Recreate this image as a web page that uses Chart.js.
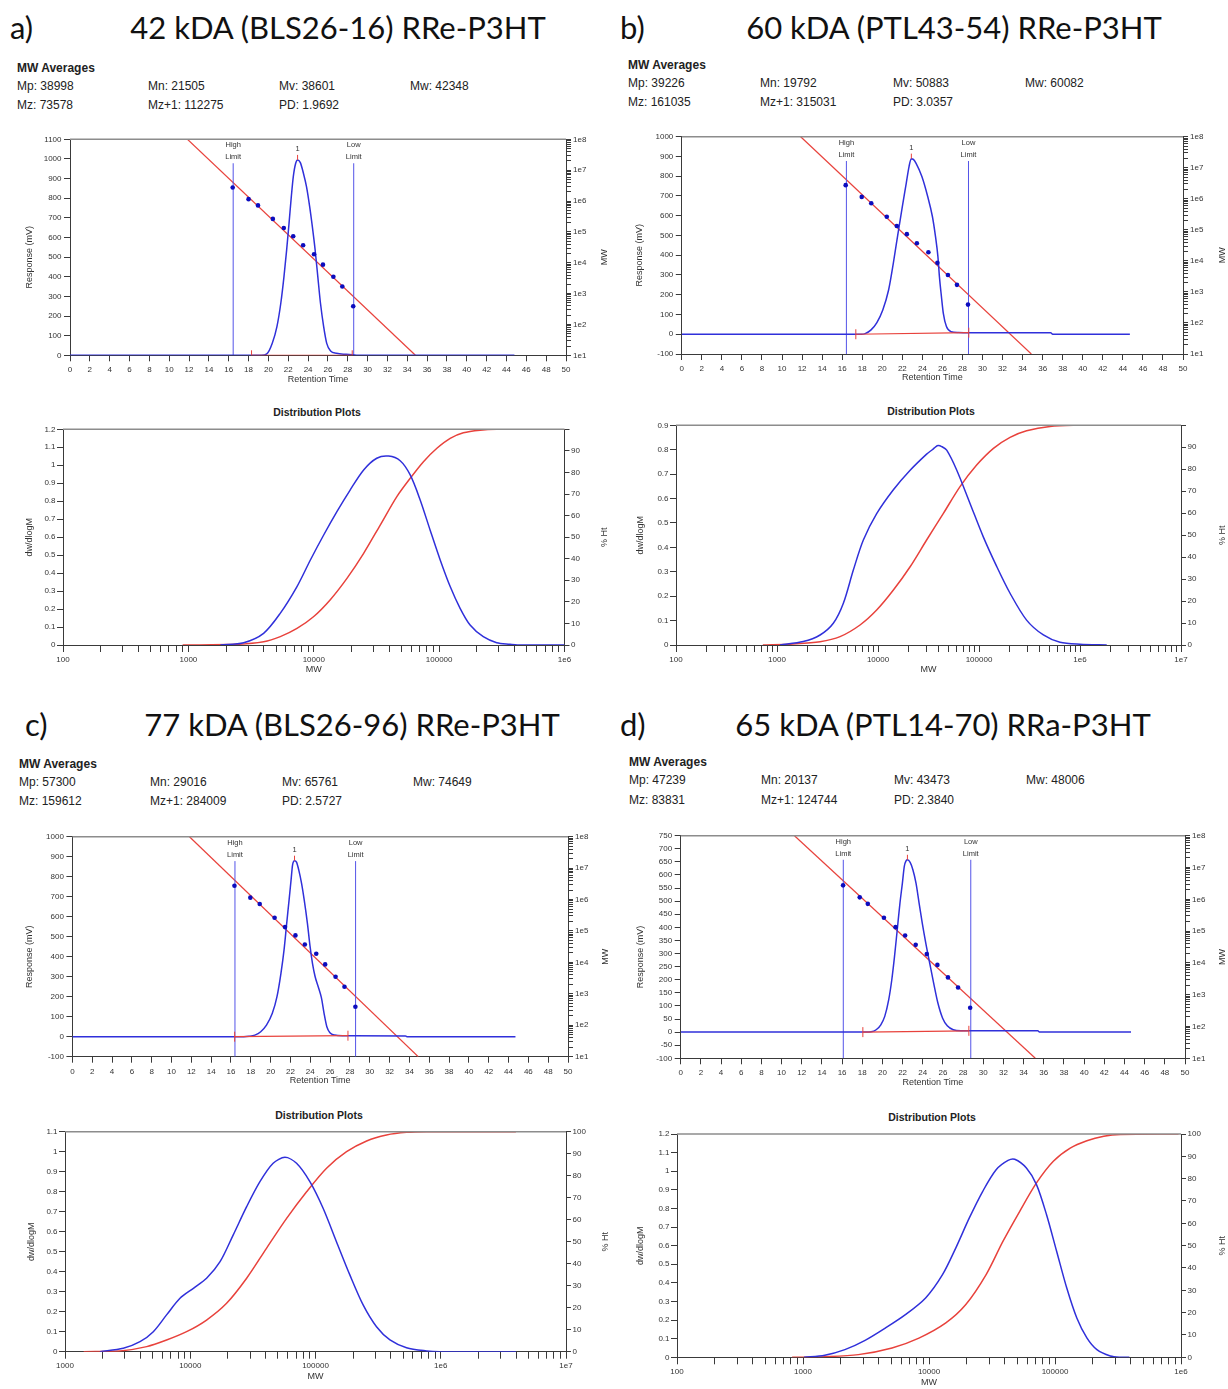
<!DOCTYPE html>
<html>
<head>
<meta charset="utf-8">
<script src="https://cdn.jsdelivr.net/npm/chart.js@4.4.1/dist/chart.umd.min.js"></script>
<style>
  html, body { margin: 0; padding: 0; background: #fff; overflow: hidden; }
  body { position: relative; width: 1228px; height: 1389px; font-family: "Liberation Sans", Arial, sans-serif; color: #111; }
  .t { position: absolute; white-space: nowrap; line-height: 1; transform: translateY(-50%); }
  .ctr { transform: translate(-50%, -50%); }
  .hd { font-family: Lato, "Open Sans", sans-serif; font-size: 31px; color: #111; }
  .avg { font-size: 12px; color: #222; }
  .bold { font-weight: bold; }
  .dp { font-size: 10.5px; font-weight: bold; color: #222; }
  canvas { position: absolute; }
</style>
</head>
<body>

<!-- panel a -->
<div class="t hd" style="left:10px;top:27px">a)</div>
<div class="t hd ctr" style="left:338px;top:27px">42 kDA (BLS26-16) RRe-P3HT</div>
<div class="t avg bold" style="left:17px;top:68px">MW Averages</div>
<div class="t avg" style="left:17px;top:86px">Mp: 38998</div>
<div class="t avg" style="left:148px;top:86px">Mn: 21505</div>
<div class="t avg" style="left:279px;top:86px">Mv: 38601</div>
<div class="t avg" style="left:410px;top:86px">Mw: 42348</div>
<div class="t avg" style="left:17px;top:105px">Mz: 73578</div>
<div class="t avg" style="left:148px;top:105px">Mz+1: 112275</div>
<div class="t avg" style="left:279px;top:105px">PD: 1.9692</div>
<div class="t dp ctr" style="left:317px;top:412px">Distribution Plots</div>

<!-- panel b -->
<div class="t hd" style="left:620px;top:27px">b)</div>
<div class="t hd ctr" style="left:954px;top:27px">60 kDA (PTL43-54) RRe-P3HT</div>
<div class="t avg bold" style="left:628px;top:65px">MW Averages</div>
<div class="t avg" style="left:628px;top:83px">Mp: 39226</div>
<div class="t avg" style="left:760px;top:83px">Mn: 19792</div>
<div class="t avg" style="left:893px;top:83px">Mv: 50883</div>
<div class="t avg" style="left:1025px;top:83px">Mw: 60082</div>
<div class="t avg" style="left:628px;top:102px">Mz: 161035</div>
<div class="t avg" style="left:760px;top:102px">Mz+1: 315031</div>
<div class="t avg" style="left:893px;top:102px">PD: 3.0357</div>
<div class="t dp ctr" style="left:931px;top:411px">Distribution Plots</div>

<!-- panel c -->
<div class="t hd" style="left:25px;top:724px">c)</div>
<div class="t hd ctr" style="left:352px;top:724px">77 kDA (BLS26-96) RRe-P3HT</div>
<div class="t avg bold" style="left:19px;top:764px">MW Averages</div>
<div class="t avg" style="left:19px;top:782px">Mp: 57300</div>
<div class="t avg" style="left:150px;top:782px">Mn: 29016</div>
<div class="t avg" style="left:282px;top:782px">Mv: 65761</div>
<div class="t avg" style="left:413px;top:782px">Mw: 74649</div>
<div class="t avg" style="left:19px;top:801px">Mz: 159612</div>
<div class="t avg" style="left:150px;top:801px">Mz+1: 284009</div>
<div class="t avg" style="left:282px;top:801px">PD: 2.5727</div>
<div class="t dp ctr" style="left:319px;top:1115px">Distribution Plots</div>

<!-- panel d -->
<div class="t hd" style="left:620px;top:724px">d)</div>
<div class="t hd ctr" style="left:943px;top:724px">65 kDA (PTL14-70) RRa-P3HT</div>
<div class="t avg bold" style="left:629px;top:762px">MW Averages</div>
<div class="t avg" style="left:629px;top:780px">Mp: 47239</div>
<div class="t avg" style="left:761px;top:780px">Mn: 20137</div>
<div class="t avg" style="left:894px;top:780px">Mv: 43473</div>
<div class="t avg" style="left:1026px;top:780px">Mw: 48006</div>
<div class="t avg" style="left:629px;top:800px">Mz: 83831</div>
<div class="t avg" style="left:761px;top:800px">Mz+1: 124744</div>
<div class="t avg" style="left:894px;top:800px">PD: 2.3840</div>
<div class="t dp ctr" style="left:932px;top:1117px">Distribution Plots</div>

<script>
// ---- shared calibration standards (MW of the 12 narrow standards) ----
const CAL_MW = [2750000, 1150000, 720000, 263000, 133000, 72500, 37000, 18900, 8650, 3500, 1690, 390];
const CAL_LINE_MW = [1e8, 10];

// axis tick labels
const MW_AXIS_LABELS = ['1e1', '1e2', '1e3', '1e4', '1e5', '1e6', '1e7', '1e8'];
const DIST_X_LABELS = { 2: '100', 3: '1000', 4: '10000', 5: '100000', 6: '1e6', 7: '1e7' };

// ---- a) 42 kDa BLS26-16 ----
const RT_A = [0, 19.3, 19.84, 20.39, 20.86, 21.25, 21.57, 21.84, 22.08, 22.31, 22.51, 22.75, 22.94, 23.22, 23.53, 23.84, 24.16, 24.43, 24.71, 24.98, 25.25, 25.57, 25.88, 26.27, 26.86, 27.84, 28.47, 29.0, 44.8];
const MV_A = [0, 0, 7, 61, 146, 265, 401, 537, 672, 808, 910, 978, 995, 981, 927, 859, 757, 655, 537, 401, 265, 146, 61, 22, 10, 5, 3, 0, 0];
const STD_RT_A = [16.4, 18.0, 18.95, 20.45, 21.55, 22.5, 23.5, 24.6, 25.5, 26.55, 27.45, 28.55];
const LIMITS_A = [16.45, 28.6];
const BASE_RT_A = [18.3, 28.45];
const BASE_MV_A = [0, 0];
const CAL_LINE_RT_A = [11.84, 34.82];
const PEAK_A = [22.94, 995];
const W_MW_A = [1800, 2760, 3980, 5400, 7350, 9400, 12000, 15300, 19500, 25000, 31800, 39500, 48900, 58800, 70600, 84700, 102000, 122500, 147000, 176600, 225000, 288000, 368000, 420000, 1000000];
const W_A = [0, 0.013, 0.065, 0.176, 0.325, 0.473, 0.612, 0.742, 0.862, 0.974, 1.039, 1.051, 1.025, 0.946, 0.807, 0.640, 0.473, 0.325, 0.204, 0.111, 0.046, 0.013, 0.004, 0, 0];
const CUM_MW_A = [900, 2440, 3980, 5410, 7350, 9950, 13500, 18400, 25000, 33900, 46000, 58800, 75000, 96000, 122500, 156000, 212000, 288000, 1000000];
const CUM_A = [0, 0.3, 1.5, 3.9, 7.7, 13.1, 20.9, 30.9, 42.5, 55.6, 68.8, 77.3, 85, 91.2, 95.8, 98.4, 99.6, 100, 100];

// ---- b) 60 kDa PTL43-54 ----
const RT_B = [0, 17.9, 18.29, 18.88, 19.46, 20.05, 20.63, 21.1, 21.57, 22.0, 22.39, 22.67, 22.89, 23.1, 23.36, 23.95, 24.53, 25.0, 25.31, 25.55, 25.7, 25.9, 26.09, 26.4, 26.87, 27.6, 28.6, 29.2, 36.8, 37.0, 44.7];
const MV_B = [0, 0, 3, 22, 59, 123, 224, 359, 511, 646, 764, 849, 889, 885, 866, 798, 697, 596, 494, 393, 292, 191, 106, 39, 13, 9, 8, 8, 7, 0, 0];
const STD_RT_B = [16.35, 17.95, 18.9, 20.45, 21.45, 22.45, 23.45, 24.6, 25.5, 26.55, 27.45, 28.55];
const LIMITS_B = [16.42, 28.6];
const BASE_RT_B = [17.36, 28.63];
const BASE_MV_B = [0, 8];
const CAL_LINE_RT_B = [11.86, 34.87];
const PEAK_B = [22.9, 889];
const W_MW_B = [1070, 1820, 2670, 3610, 4540, 5700, 7160, 9700, 14200, 20800, 30300, 34700, 37200, 39500, 42700, 47900, 60100, 81500, 110000, 150000, 203000, 296000, 434000, 634000, 1000000, 1840000];
const W_B = [0, 0.014, 0.041, 0.089, 0.171, 0.307, 0.43, 0.538, 0.636, 0.716, 0.782, 0.801, 0.812, 0.817, 0.813, 0.798, 0.717, 0.58, 0.444, 0.321, 0.212, 0.102, 0.041, 0.011, 0.003, 0];
const CUM_MW_B = [724, 1450, 2670, 4210, 6640, 9700, 14200, 20800, 30300, 44400, 64900, 94800, 139000, 203000, 296000, 505000, 927000, 1840000];
const CUM_B = [0, 0.5, 1.5, 3.8, 9.1, 15.9, 25, 35.6, 47.8, 59.9, 72.1, 81.9, 89.5, 94.5, 97.5, 99.5, 100, 100];

// ---- c) 77 kDa BLS26-96 ----
const RT_C = [0, 17.3, 17.82, 18.41, 19.0, 19.58, 20.17, 20.64, 21.04, 21.35, 21.62, 21.86, 22.06, 22.21, 22.41, 22.61, 22.84, 23.12, 23.39, 23.71, 23.98, 24.22, 24.49, 24.8, 25.12, 25.39, 25.67, 25.98, 26.45, 27.24, 33.6, 33.8, 44.7];
const MV_C = [0, 0, 2, 8, 25, 58, 117, 200, 317, 433, 567, 683, 783, 858, 880, 873, 833, 767, 683, 567, 450, 367, 300, 250, 195, 117, 50, 20, 8, 5, 4, 0, 0];
const STD_RT_C = [16.35, 17.95, 18.9, 20.4, 21.45, 22.5, 23.45, 24.6, 25.5, 26.55, 27.45, 28.55];
const LIMITS_C = [16.4, 28.57];
const BASE_RT_C = [16.37, 27.8];
const BASE_MV_C = [0, 5];
const CAL_LINE_RT_C = [11.81, 34.89];
const PEAK_C = [22.41, 880];
const W_MW_C = [1900, 2920, 3970, 5070, 6470, 8280, 10600, 13500, 17300, 22000, 28200, 36000, 45900, 57000, 70600, 90200, 115000, 147000, 188000, 240000, 307000, 393000, 533000, 769000, 982000, 3980000];
const W_C = [0, 0.017, 0.05, 0.1, 0.184, 0.267, 0.317, 0.367, 0.45, 0.583, 0.725, 0.85, 0.942, 0.972, 0.942, 0.85, 0.717, 0.55, 0.384, 0.234, 0.125, 0.059, 0.02, 0.004, 0, 0];
const CUM_MW_C = [1410, 2750, 4490, 6470, 9350, 13500, 19500, 28200, 40600, 58800, 84900, 122500, 177000, 256000, 369000, 533000, 769000, 3980000];
const CUM_C = [0, 0.3, 2.3, 5.3, 9.1, 14.4, 22, 33.4, 47, 60.6, 72.7, 83.4, 90.9, 95.8, 98.5, 99.7, 100, 100];

// ---- d) 65 kDa PTL14-70 ----
const RT_D = [0, 18.4, 18.88, 19.38, 19.84, 20.23, 20.62, 20.93, 21.2, 21.47, 21.74, 21.98, 22.17, 22.36, 22.48, 22.75, 23.02, 23.33, 23.64, 23.95, 24.3, 24.69, 25.08, 25.5, 25.97, 26.43, 27.02, 27.79, 35.4, 35.6, 44.65];
const MV_D = [0, 0, 1, 9, 28, 60, 123, 200, 289, 391, 493, 569, 633, 655, 658, 648, 620, 569, 492, 416, 340, 263, 187, 111, 53, 24, 9, 5, 5, 0, 0];
const STD_RT_D = [16.1, 17.75, 18.55, 20.15, 21.3, 22.25, 23.3, 24.4, 25.45, 26.5, 27.5, 28.7];
const LIMITS_D = [16.12, 28.76];
const BASE_RT_D = [18.06, 28.57];
const BASE_MV_D = [0, 5];
const CAL_LINE_RT_D = [11.28, 35.16];
const PEAK_D = [22.48, 658];
const W_MW_D = [1020, 1490, 2150, 3110, 4500, 6500, 9400, 12800, 16300, 20900, 26700, 34100, 42400, 47900, 59300, 71300, 85700, 103000, 124000, 149000, 179000, 215000, 275000, 331000, 389000];
const W_D = [0, 0.011, 0.041, 0.091, 0.157, 0.229, 0.319, 0.444, 0.587, 0.749, 0.892, 1.008, 1.058, 1.064, 1.017, 0.928, 0.766, 0.57, 0.372, 0.211, 0.104, 0.041, 0.007, 0, 0];
const CUM_MW_D = [820, 1490, 2750, 5090, 8320, 13600, 19600, 28400, 38600, 52500, 71300, 97000, 132000, 179000, 244000, 331000, 955000];
const CUM_D = [0, 0.3, 1.2, 4.2, 8.6, 15.4, 23.6, 37, 51.9, 65.4, 78.1, 87.8, 93.7, 97, 99, 99.8, 100];

// ---------------------------------------------------------------------------
const FONT = '"Liberation Sans", Arial, Helvetica, sans-serif';
const TXT = '#333';
const AXIS = '#3a3a3a';
const BLUE = 'rgb(48, 48, 218)';
const DOT = 'rgb(12, 12, 190)';
const LIMIT = 'rgb(84, 84, 232)';
const RED = 'rgb(232, 66, 60)';
const TITLE_LH = 10.8; // 9px axis titles, line height 1.2

const pts = (xs, ys) => xs.map((x, i) => ({ x: x, y: ys[i] }));

// plot rectangles on the page plus where the axis titles sit
const TOP_LAYOUT = {
  a: { l: 70, r: 566, t: 139.3, b: 355.3, ly: 29, ry: 605, by: 379.5 },
  b: { l: 681.8, r: 1183, t: 136.7, b: 354, ly: 639, ry: 1223, by: 377.7 },
  c: { l: 72.4, r: 568, t: 836.7, b: 1056.7, ly: 29, ry: 606, by: 1081 },
  d: { l: 680.7, r: 1185, t: 835.7, b: 1058.3, ly: 640.4, ry: 1223, by: 1082.7 }
};
const DIST_LAYOUT = {
  a: { l: 63, r: 564.5, t: 429.3, b: 645, ly: 29, ry: 605, by: 669.3 },
  b: { l: 676, r: 1181, t: 425.3, b: 645, ly: 640.4, ry: 1223, by: 670 },
  c: { l: 65, r: 566, t: 1131.7, b: 1351.7, ly: 31, ry: 606, by: 1377 },
  d: { l: 677, r: 1181, t: 1134, b: 1357.3, ly: 640, ry: 1223, by: 1383 }
};

const PANELS = {
  a: { rt: RT_A, mv: MV_A, stdRt: STD_RT_A, limits: LIMITS_A, limitTop: 978, baseRt: BASE_RT_A, baseMv: BASE_MV_A,
       calRt: CAL_LINE_RT_A, peak: PEAK_A, yMin: 0, yMax: 1100, yStep: 100,
       wMw: W_MW_A, w: W_A, cumMw: CUM_MW_A, cum: CUM_A, xMin: 100, xMax: 1e6, wMax: 1.2, top100: false },
  b: { rt: RT_B, mv: MV_B, stdRt: STD_RT_B, limits: LIMITS_B, limitTop: 877, baseRt: BASE_RT_B, baseMv: BASE_MV_B,
       calRt: CAL_LINE_RT_B, peak: PEAK_B, yMin: -100, yMax: 1000, yStep: 100,
       wMw: W_MW_B, w: W_B, cumMw: CUM_MW_B, cum: CUM_B, xMin: 100, xMax: 1e7, wMax: 0.9, top100: false },
  c: { rt: RT_C, mv: MV_C, stdRt: STD_RT_C, limits: LIMITS_C, limitTop: 878, baseRt: BASE_RT_C, baseMv: BASE_MV_C,
       calRt: CAL_LINE_RT_C, peak: PEAK_C, yMin: -100, yMax: 1000, yStep: 100,
       wMw: W_MW_C, w: W_C, cumMw: CUM_MW_C, cum: CUM_C, xMin: 1000, xMax: 1e7, wMax: 1.1, top100: true },
  d: { rt: RT_D, mv: MV_D, stdRt: STD_RT_D, limits: LIMITS_D, limitTop: 658, baseRt: BASE_RT_D, baseMv: BASE_MV_D,
       calRt: CAL_LINE_RT_D, peak: PEAK_D, yMin: -100, yMax: 750, yStep: 50,
       wMw: W_MW_D, w: W_D, cumMw: CUM_MW_D, cum: CUM_D, xMin: 100, xMax: 1e6, wMax: 1.2, top100: true }
};

// log axes: keep only 1..9 x 10^n ticks (drop the 1.5 x 10^n ones)
function wholeMantissa(scale) {
  scale.ticks = scale.ticks.filter(function (t) {
    const e = Math.floor(Math.log10(t.value) + 1e-9);
    const m = t.value / Math.pow(10, e);
    return Math.abs(m - Math.round(m)) < 1e-6;
  });
}
function decadeExp(v) {
  const e = Math.log10(v);
  return Math.abs(e - Math.round(e)) < 1e-9 ? Math.round(e) : null;
}

// frame top line, side titles, limit and peak annotations
const gpcDecor = {
  id: 'gpcDecor',
  afterDatasetsDraw(chart, args, o) {
    const ctx = chart.ctx, a = chart.chartArea;
    ctx.save();
    ctx.strokeStyle = '#8c8c8c';
    ctx.lineWidth = 1.5;
    ctx.beginPath();
    ctx.moveTo(a.left, a.top);
    ctx.lineTo(a.right, a.top);
    ctx.stroke();

    ctx.fillStyle = TXT;
    ctx.textAlign = 'center';
    ctx.textBaseline = 'middle';
    chart.data.datasets.forEach(function (ds, i) {
      const meta = chart.getDatasetMeta(i);
      if (ds.limitLabel) {
        const top = meta.data[1];
        const n = ds.limitLabel.length;
        ctx.font = '7.5px ' + FONT;
        ds.limitLabel.forEach(function (s, k) {
          ctx.fillText(s, top.x, top.y - 6 - (n - 1 - k) * 12);
        });
      }
      if (ds.peakLabel) {
        meta.data.forEach(function (p) {
          ctx.strokeStyle = RED;
          ctx.lineWidth = 1;
          ctx.beginPath();
          ctx.moveTo(p.x, p.y);
          ctx.lineTo(p.x, p.y - 5);
          ctx.stroke();
          ctx.font = '7.5px ' + FONT;
          ctx.fillText(ds.peakLabel, p.x, p.y - 11);
        });
      }
    });

    // both side titles read bottom to top
    const cy = (a.top + a.bottom) / 2 + (o.shift || 0);
    ctx.font = '9px ' + FONT;
    [[TITLE_LH / 2, o.left], [chart.width - TITLE_LH / 2, o.right]].forEach(function (s) {
      ctx.save();
      ctx.translate(s[0], cy);
      ctx.rotate(-Math.PI / 2);
      ctx.fillText(s[1], 0, 0);
      ctx.restore();
    });
    ctx.restore();
  }
};

function placeCanvas(L) {
  const cl = Math.round(L.ly - TITLE_LH / 2);
  const cr = Math.round(L.ry + TITLE_LH / 2);
  const ct = Math.round(L.t - 14);
  const cb = Math.round(L.by + TITLE_LH / 2);
  const cv = document.createElement('canvas');
  cv.width = cr - cl;
  cv.height = cb - ct;
  cv.style.left = cl + 'px';
  cv.style.top = ct + 'px';
  document.body.appendChild(cv);
  return { cv: cv, lw: L.l - cl, rw: cr - L.r, bh: cb - L.b, tp: L.t - ct };
}

const tickFont = { family: FONT, size: 8 };
const titleFont = { family: FONT, size: 9 };

function chromatogram(key) {
  const P = PANELS[key];
  const c = placeCanvas(TOP_LAYOUT[key]);
  new Chart(c.cv, {
    type: 'line',
    data: {
      datasets: [
        { data: pts(P.stdRt, CAL_MW), yAxisID: 'mw', showLine: false, pointRadius: 2.3,
          pointBackgroundColor: DOT, pointBorderWidth: 0 },
        { data: pts(P.baseRt, P.baseMv), yAxisID: 'y', borderColor: RED, borderWidth: 1.2,
          pointStyle: 'line', rotation: 90, pointRadius: 5, pointBorderColor: RED, pointBorderWidth: 1 },
        { data: pts(P.rt, P.mv), yAxisID: 'y', borderColor: BLUE, borderWidth: 1.5, pointRadius: 0,
          cubicInterpolationMode: 'monotone' },
        { data: pts([P.limits[0], P.limits[0]], [P.yMin, P.limitTop]), yAxisID: 'y', borderColor: LIMIT,
          borderWidth: 1, pointRadius: 0, limitLabel: ['High', 'Limit'] },
        { data: pts([P.limits[1], P.limits[1]], [P.yMin, P.limitTop]), yAxisID: 'y', borderColor: LIMIT,
          borderWidth: 1, pointRadius: 0, limitLabel: ['Low', 'Limit'] },
        { data: pts(P.calRt, CAL_LINE_MW), yAxisID: 'mw', borderColor: RED, borderWidth: 1.2, pointRadius: 0 },
        { data: pts([P.peak[0]], [P.peak[1]]), yAxisID: 'y', showLine: false, pointRadius: 0, peakLabel: '1' }
      ]
    },
    options: {
      responsive: false, animation: false, events: [], devicePixelRatio: 1,
      layout: { padding: { top: c.tp, left: 0, right: 0, bottom: 0 } },
      plugins: {
        legend: { display: false }, tooltip: { enabled: false },
        gpcDecor: { left: 'Response (mV)', right: 'MW', shift: 10 }
      },
      scales: {
        x: {
          type: 'linear', position: 'bottom', min: 0, max: 50,
          afterFit: function (s) { s.height = c.bh; },
          ticks: { stepSize: 2, autoSkip: false, maxRotation: 0, padding: 4, font: tickFont, color: TXT },
          grid: { drawOnChartArea: false, tickLength: 6, color: AXIS },
          border: { color: AXIS },
          title: { display: true, text: 'Retention Time', font: titleFont, color: TXT, padding: 0 }
        },
        y: {
          type: 'linear', position: 'left', min: P.yMin, max: P.yMax,
          afterFit: function (s) { s.width = c.lw; },
          ticks: { stepSize: P.yStep, autoSkip: false, padding: 2.5, font: tickFont, color: TXT,
                   callback: function (v) { return String(v); } },
          grid: { drawOnChartArea: false, tickLength: 6, color: AXIS },
          border: { color: AXIS }
        },
        mw: {
          type: 'logarithmic', position: 'right', min: 10, max: 1e8,
          afterFit: function (s) { s.width = c.rw; },
          afterBuildTicks: wholeMantissa,
          ticks: {
            autoSkip: false, padding: 2, font: tickFont, color: TXT,
            callback: function (v) { const e = decadeExp(v); return e === null ? '' : MW_AXIS_LABELS[e - 1]; }
          },
          grid: { drawOnChartArea: false, tickLength: 5, color: AXIS },
          border: { color: AXIS }
        }
      }
    },
    plugins: [gpcDecor]
  });
}

function distribution(key) {
  const P = PANELS[key];
  const c = placeCanvas(DIST_LAYOUT[key]);
  new Chart(c.cv, {
    type: 'line',
    data: {
      datasets: [
        { data: pts(P.wMw, P.w), yAxisID: 'y', borderColor: BLUE, borderWidth: 1.5, pointRadius: 0, tension: 0.3 },
        { data: pts(P.cumMw, P.cum), yAxisID: 'pct', borderColor: RED, borderWidth: 1.5, pointRadius: 0, tension: 0.3 }
      ]
    },
    options: {
      responsive: false, animation: false, events: [], devicePixelRatio: 1,
      layout: { padding: { top: c.tp, left: 0, right: 0, bottom: 0 } },
      plugins: {
        legend: { display: false }, tooltip: { enabled: false },
        gpcDecor: { left: 'dw/dlogM', right: '% Ht', shift: 0 }
      },
      scales: {
        x: {
          type: 'logarithmic', position: 'bottom', min: P.xMin, max: P.xMax,
          afterFit: function (s) { s.height = c.bh; },
          afterBuildTicks: wholeMantissa,
          ticks: {
            autoSkip: false, maxRotation: 0, padding: 2.5, font: tickFont, color: TXT,
            callback: function (v) { const e = decadeExp(v); return e === null ? '' : DIST_X_LABELS[e]; }
          },
          grid: { drawOnChartArea: false, tickLength: 7, color: AXIS },
          border: { color: AXIS },
          title: { display: true, text: 'MW', font: titleFont, color: TXT, padding: 0 }
        },
        y: {
          type: 'linear', position: 'left', min: 0, max: P.wMax,
          afterFit: function (s) { s.width = c.lw; },
          ticks: {
            stepSize: 0.1, autoSkip: false, padding: 1.5, font: tickFont, color: TXT,
            callback: function (v) { return String(Math.round(v * 10) / 10); }
          },
          grid: { drawOnChartArea: false, tickLength: 6, color: AXIS },
          border: { color: AXIS }
        },
        pct: {
          type: 'linear', position: 'right', min: 0, max: 100,
          afterFit: function (s) { s.width = c.rw; },
          ticks: {
            stepSize: 10, autoSkip: false, padding: 1.5, font: tickFont, color: TXT,
            callback: function (v) { return (v === 100 && !P.top100) ? '' : String(v); }
          },
          grid: { drawOnChartArea: false, tickLength: 5, color: AXIS },
          border: { color: AXIS }
        }
      }
    },
    plugins: [gpcDecor]
  });
}

['a', 'b', 'c', 'd'].forEach(function (k) {
  chromatogram(k);
  distribution(k);
});
</script>
</body>
</html>
